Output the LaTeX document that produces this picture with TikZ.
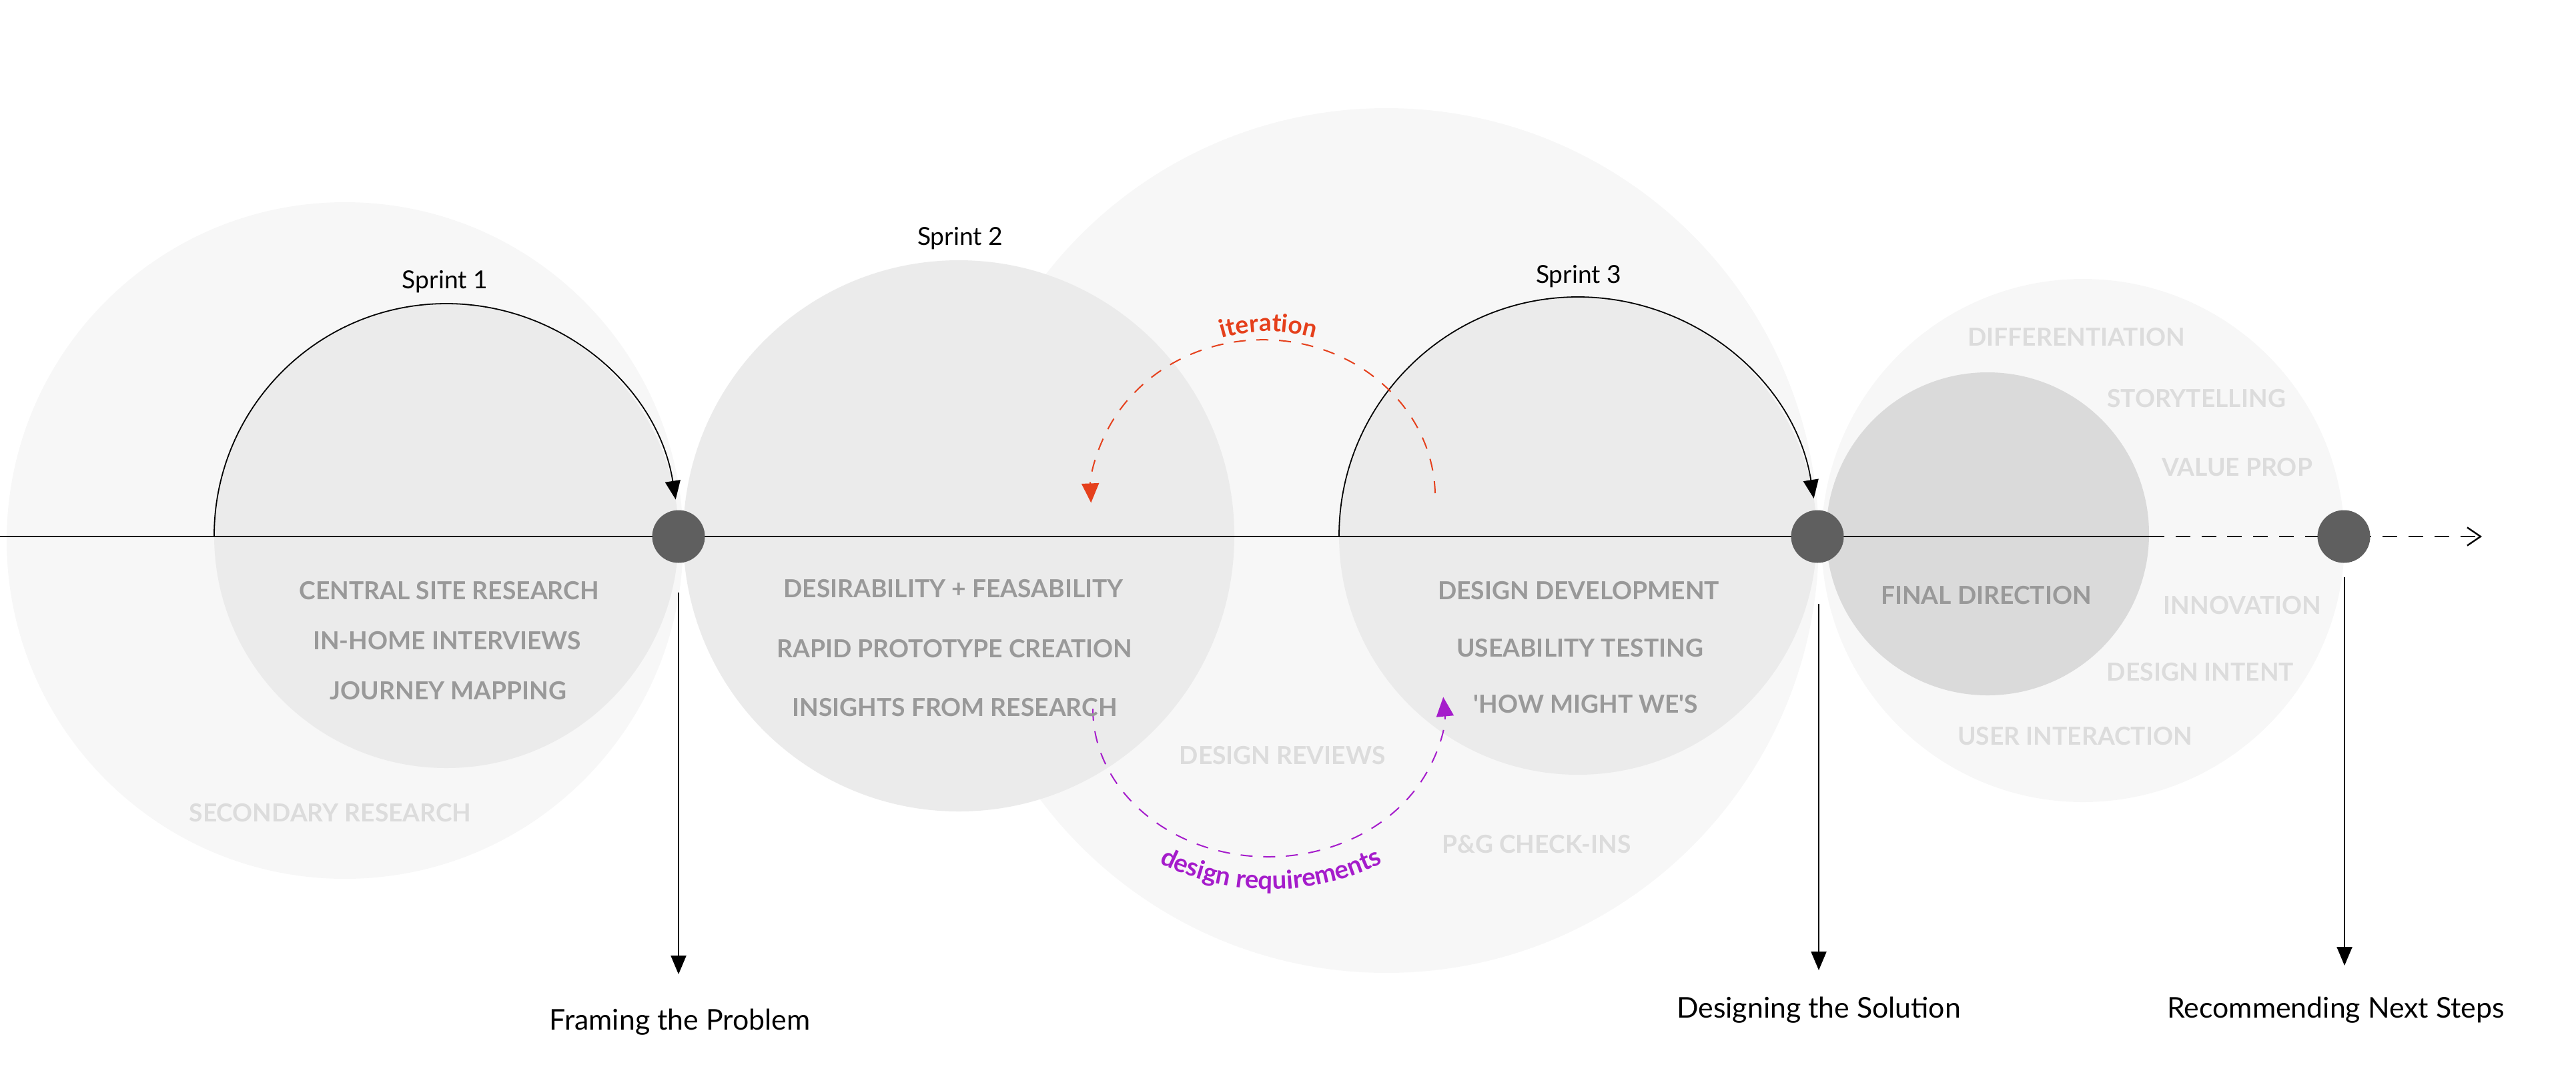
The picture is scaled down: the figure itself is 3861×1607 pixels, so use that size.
\documentclass[tikz,border=0pt]{standalone}
\usepackage{fontspec}
\setmainfont{Lato}
\usetikzlibrary{arrows.meta,decorations.text}
\definecolor{outerfill}{HTML}{F7F7F7}
\definecolor{innerfill}{HTML}{EBEBEB}
\definecolor{finalfill}{HTML}{DADADA}
\definecolor{dotfill}{HTML}{5F5F5F}
\definecolor{captext}{HTML}{999999}
\definecolor{lighttext}{HTML}{DCDCDC}
\definecolor{iterc}{HTML}{E5401C}
\definecolor{reqc}{HTML}{A51CCB}
\begin{document}
\begin{tikzpicture}[x=0.25pt,y=-0.25pt,
  dot/.style={circle, fill=dotfill, minimum size=19.75pt, inner sep=0pt},
  caps/.style={font=\fontsize{9.3}{11}\selectfont\bfseries, text=captext, inner sep=0pt},
  faint/.style={caps, text=lighttext},
  sprintlbl/.style={font=\fontsize{9.3}{11}\selectfont, inner sep=0pt},
  phase/.style={font=\fontsize{10.7}{13}\selectfont, inner sep=0pt},
  sprintarc/.style={line width=0.45pt, -{Triangle[length=7pt,width=5.75pt]}},
  varrow/.style={line width=0.55pt, -{Triangle[length=7pt,width=5.75pt]}},
  mainline/.style={line width=0.7pt},
  futureline/.style={line width=0.6pt, dash pattern=on 5.5pt off 4.2pt, -{Straight Barb[length=5pt,width=6.8pt]}},
  iterarc/.style={draw=iterc, line width=0.5pt, dash pattern=on 4.5pt off 4pt, -{Triangle[length=7.25pt,width=6.5pt,fill=iterc]}},
  reqarc/.style={draw=reqc, line width=0.5pt, dash pattern=on 4.5pt off 4pt, -{Triangle[length=7.25pt,width=6.5pt,fill=reqc]}}
]
\useasboundingbox (0,0) rectangle (3861,1607);

% background circles
\fill[outerfill] (517,810) circle[radius=507];
\fill[outerfill] (2078,810) circle[radius=648];
\fill[outerfill] (3122,810) circle[radius=392];
\fill[innerfill] (669,803) circle[radius=348];
\fill[innerfill] (1437,803) circle[radius=413];
\fill[innerfill] (2365,803) circle[radius=358];
\fill[finalfill] (2979,800) circle[radius=242];

% timeline
\coordinate (lstart) at (0,804);
\coordinate (lsolid) at (3222,804);
\coordinate (lend) at (3720,804);
\draw[mainline] (lstart) -- (lsolid);
\draw[futureline] (lsolid) -- (lend);

% sprint arcs
\coordinate (s1start) at (321,803);
\draw[sprintarc] (s1start) arc[start angle=180, end angle=351, radius=348];
\coordinate (s3start) at (2007,803);
\draw[sprintarc] (s3start) arc[start angle=180, end angle=351, radius=358];

% iteration / design requirement loops
\coordinate (iterstart) at (2151,739);
\draw[iterarc] (iterstart) arc[start angle=358.5, end angle=178, x radius=258, y radius=236];
\coordinate (reqstart) at (1638,1062);
\draw[reqarc] (reqstart) arc[start angle=180, end angle=-4.5, x radius=263, y radius=222];

\coordinate (itertext) at (1777,530);
\path[decorate, decoration={text along path, text align=center,
  text={|\fontsize{9.3}{11}\selectfont\bfseries\color{iterc}|iteration}}]
  (itertext) arc[start angle=240, end angle=300, radius=248];
\coordinate (reqtext) at (1707,1276);
\path[decorate, decoration={text along path, text align=center,
  text={|\fontsize{9.6}{11}\selectfont\bfseries\color{reqc}|design requirements}}]
  (reqtext) arc[start angle=122, end angle=58, radius=374];

% milestone dots
\node[dot] (d1) at (1017,804) {};
\node[dot] (d2) at (2724,804) {};
\node[dot] (d3) at (3513,804) {};

% phase arrows and labels
\node[phase] (lab1) at (1019,1532) {Framing the Problem};
\node[phase] (lab2) at (2726,1514) {Designing the Solution};
\node[phase] (lab3) at (3501,1514) {Recommending Next Steps};
\coordinate (a1s) at (1017,888);  \coordinate (a1e) at (1017,1460);
\coordinate (a2s) at (2726,905);  \coordinate (a2e) at (2726,1454);
\coordinate (a3s) at (3514,865);  \coordinate (a3e) at (3514,1447);
\draw[varrow] (a1s) -- (a1e);
\draw[varrow] (a2s) -- (a2e);
\draw[varrow] (a3s) -- (a3e);

% sprint labels
\node[sprintlbl] (sp1) at (667,422) {Sprint 1};
\node[sprintlbl] (sp2) at (1439,357) {Sprint 2};
\node[sprintlbl] (sp3) at (2366,414) {Sprint 3};

% sprint 1 texts
\node[caps] (t11) at (673,885) {CENTRAL SITE RESEARCH};
\node[caps] (t12) at (670,960) {IN-HOME INTERVIEWS};
\node[caps] (t13) at (672,1035) {JOURNEY MAPPING};
\node[faint] (t14) at (495,1218) {SECONDARY RESEARCH};

% sprint 2 texts
\node[caps] (t21) at (1429,882) {DESIRABILITY + FEASABILITY};
\node[caps] (t22) at (1431,972) {RAPID PROTOTYPE CREATION};
\node[caps] (t23) at (1431,1060) {INSIGHTS FROM RESEARCH};
\node[faint] (t24) at (1922,1132) {DESIGN REVIEWS};

% sprint 3 texts
\node[caps] (t31) at (2366,885) {DESIGN DEVELOPMENT};
\node[caps] (t32) at (2368,971) {USEABILITY TESTING};
\node[caps] (t33) at (2377,1055) {\textquotesingle HOW MIGHT WE\textquotesingle S};
\node[faint] (t34) at (2303,1265) {P\&G CHECK-INS};

% final direction texts
\node[caps] (t41) at (2977,892) {FINAL DIRECTION};
\node[faint] (t42) at (3112,505) {DIFFERENTIATION};
\node[faint] (t43) at (3292,597) {STORYTELLING};
\node[faint] (t44) at (3353,700) {VALUE PROP};
\node[faint] (t45) at (3361,907) {INNOVATION};
\node[faint] (t46) at (3298,1007) {DESIGN INTENT};
\node[faint] (t47) at (3110,1103) {USER INTERACTION};
\end{tikzpicture}
\end{document}
